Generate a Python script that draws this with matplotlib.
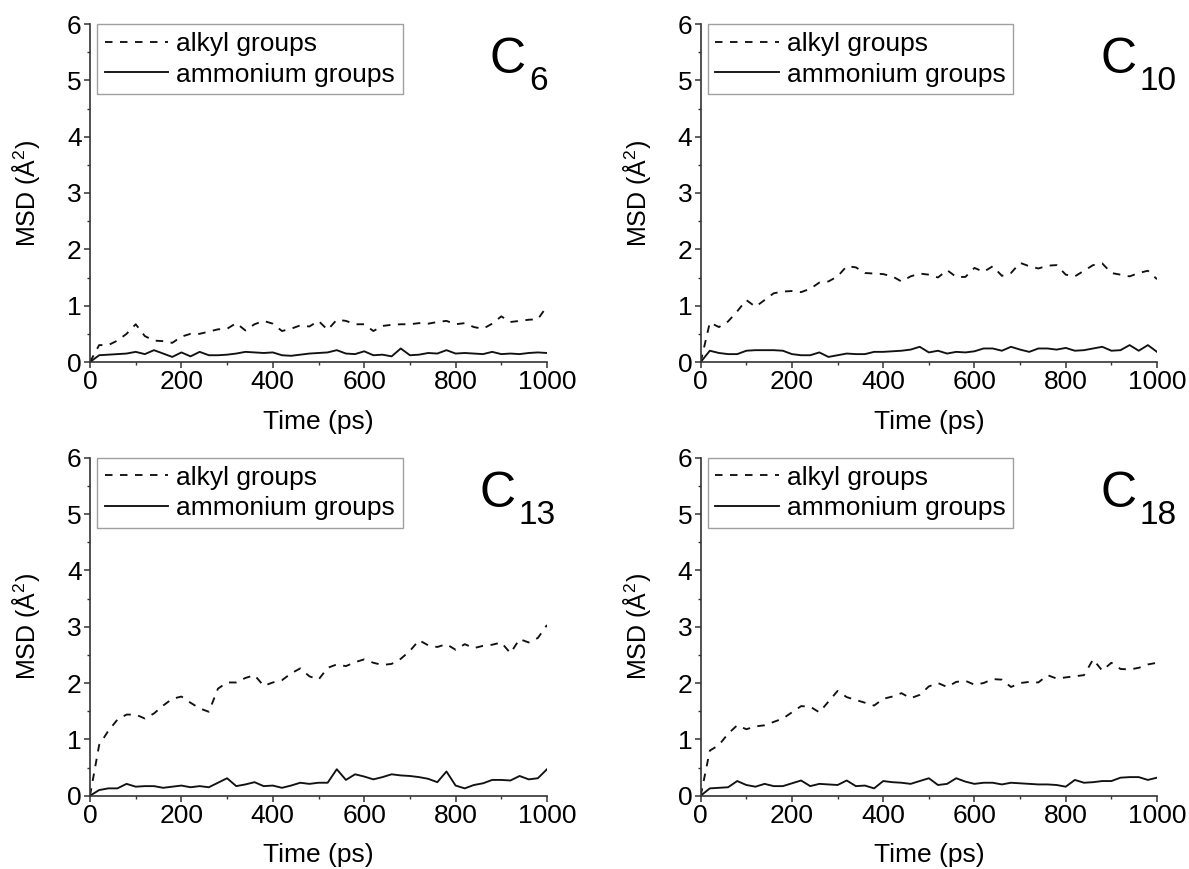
import matplotlib
matplotlib.use("Agg")
import matplotlib.pyplot as plt
from matplotlib.ticker import MultipleLocator

plt.rcParams["font.family"] = ["Liberation Sans", "DejaVu Sans"]
plt.rcParams["mathtext.default"] = "regular"

# MSD traces, sampled every 20 ps from 0 to 1000 ps
time_ps = list(range(0, 1001, 20))

alkyl_c6 = [0, 0.30, 0.30, 0.38, 0.50, 0.67, 0.46, 0.38, 0.37, 0.34, 0.45, 0.50, 0.50,
            0.54, 0.58, 0.59, 0.69, 0.56, 0.67, 0.73, 0.68, 0.55, 0.59, 0.65, 0.63, 0.73,
            0.57, 0.75, 0.73, 0.67, 0.67, 0.55, 0.64, 0.66, 0.67, 0.67, 0.69, 0.68, 0.71,
            0.73, 0.67, 0.69, 0.62, 0.59, 0.68, 0.81, 0.71, 0.73, 0.75, 0.76, 0.99]
ammonium_c6 = [0, 0.12, 0.13, 0.14, 0.15, 0.18, 0.14, 0.21, 0.15, 0.09, 0.17, 0.10, 0.18,
               0.12, 0.12, 0.13, 0.15, 0.18, 0.17, 0.16, 0.17, 0.12, 0.11, 0.13, 0.15, 0.16,
               0.17, 0.21, 0.15, 0.14, 0.19, 0.12, 0.13, 0.10, 0.24, 0.12, 0.13, 0.16, 0.15,
               0.21, 0.15, 0.16, 0.15, 0.14, 0.18, 0.14, 0.15, 0.14, 0.16, 0.17, 0.16]

alkyl_c10 = [0, 0.70, 0.62, 0.72, 0.90, 1.10, 0.98, 1.10, 1.22, 1.25, 1.26, 1.24, 1.30,
             1.41, 1.43, 1.52, 1.70, 1.68, 1.58, 1.57, 1.56, 1.52, 1.43, 1.52, 1.57, 1.55,
             1.50, 1.63, 1.51, 1.51, 1.67, 1.60, 1.70, 1.53, 1.58, 1.76, 1.70, 1.66, 1.71,
             1.72, 1.55, 1.52, 1.62, 1.72, 1.75, 1.58, 1.55, 1.52, 1.58, 1.62, 1.47]
ammonium_c10 = [0, 0.20, 0.16, 0.14, 0.14, 0.20, 0.21, 0.21, 0.21, 0.20, 0.14, 0.12, 0.12,
                0.17, 0.09, 0.12, 0.15, 0.14, 0.14, 0.18, 0.18, 0.19, 0.20, 0.22, 0.27, 0.17,
                0.20, 0.15, 0.18, 0.17, 0.19, 0.24, 0.24, 0.20, 0.27, 0.22, 0.18, 0.24, 0.24,
                0.22, 0.25, 0.20, 0.21, 0.24, 0.27, 0.20, 0.21, 0.30, 0.20, 0.30, 0.18]

alkyl_c13 = [0, 0.90, 1.15, 1.35, 1.44, 1.44, 1.37, 1.46, 1.60, 1.72, 1.76, 1.65, 1.55,
             1.49, 1.90, 2.01, 2.01, 2.09, 2.14, 1.95, 2.01, 2.05, 2.17, 2.26, 2.12, 2.06,
             2.27, 2.33, 2.30, 2.37, 2.42, 2.36, 2.32, 2.34, 2.43, 2.57, 2.76, 2.67, 2.64,
             2.69, 2.59, 2.69, 2.62, 2.66, 2.68, 2.72, 2.53, 2.78, 2.72, 2.80, 3.03]
ammonium_c13 = [0, 0.10, 0.13, 0.13, 0.21, 0.16, 0.17, 0.17, 0.14, 0.16, 0.18, 0.15, 0.17,
                0.15, 0.23, 0.31, 0.17, 0.20, 0.24, 0.17, 0.18, 0.14, 0.18, 0.23, 0.21, 0.23,
                0.23, 0.47, 0.28, 0.38, 0.34, 0.29, 0.33, 0.38, 0.36, 0.35, 0.33, 0.30, 0.24,
                0.43, 0.18, 0.13, 0.19, 0.22, 0.28, 0.28, 0.27, 0.35, 0.29, 0.31, 0.47]

alkyl_c18 = [0, 0.80, 0.90, 1.10, 1.25, 1.18, 1.23, 1.25, 1.31, 1.37, 1.48, 1.59, 1.58,
             1.48, 1.67, 1.86, 1.75, 1.70, 1.65, 1.60, 1.72, 1.76, 1.82, 1.73, 1.79, 1.94,
             2.00, 1.93, 2.02, 2.04, 1.97, 2.00, 2.07, 2.06, 1.93, 2.00, 2.02, 2.01, 2.14,
             2.08, 2.10, 2.12, 2.14, 2.42, 2.22, 2.36, 2.25, 2.24, 2.27, 2.33, 2.36]
ammonium_c18 = [0, 0.13, 0.14, 0.15, 0.26, 0.19, 0.16, 0.21, 0.17, 0.17, 0.22, 0.27, 0.17,
                0.21, 0.20, 0.19, 0.27, 0.17, 0.18, 0.13, 0.26, 0.24, 0.23, 0.21, 0.26, 0.31,
                0.19, 0.21, 0.31, 0.25, 0.21, 0.23, 0.23, 0.20, 0.23, 0.22, 0.21, 0.20, 0.20,
                0.19, 0.16, 0.28, 0.23, 0.24, 0.26, 0.26, 0.32, 0.33, 0.33, 0.28, 0.32]

chain_labels = ["6", "10", "13", "18"]
alkyl_series = [alkyl_c6, alkyl_c10, alkyl_c13, alkyl_c18]
ammonium_series = [ammonium_c6, ammonium_c10, ammonium_c13, ammonium_c18]

W, H = 1189, 869
# axes boxes in pixels: (left, top, right, bottom)
boxes = [(90, 24, 547, 362), (700.7, 24, 1157, 362),
         (90, 457.7, 547, 795.7), (700.7, 457.7, 1157, 795.7)]
c_x = [0.875, 0.876, 0.853, 0.876]

fig = plt.figure(figsize=(W / 100, H / 100), dpi=100)
ink = "#111111"

for i, (l, t, r, b) in enumerate(boxes):
    ax = fig.add_axes([l / W, 1 - b / H, (r - l) / W, (b - t) / H])
    ax.plot(time_ps, alkyl_series[i], color=ink, lw=1.35, dashes=(4, 4),
            label="alkyl groups")
    ax.plot(time_ps, ammonium_series[i], color=ink, lw=1.35, label="ammonium groups")

    ax.set_xlim(0, 1000)
    ax.set_ylim(0, 6)
    ax.xaxis.set_major_locator(MultipleLocator(200))
    ax.xaxis.set_minor_locator(MultipleLocator(100))
    ax.yaxis.set_major_locator(MultipleLocator(1))
    ax.yaxis.set_minor_locator(MultipleLocator(0.5))
    for s in ("top", "right"):
        ax.spines[s].set_visible(False)
    for s in ("left", "bottom"):
        ax.spines[s].set_linewidth(1.2)
        ax.spines[s].set_color("#333333")
    ax.tick_params(which="major", direction="out", length=4, width=1.1,
                   labelsize=19, pad=2, colors="#333333", labelcolor="black")
    ax.tick_params(which="minor", direction="out", length=2.5, width=1.0,
                   colors="#333333")

    ax.set_xlabel("Time (ps)", fontsize=19, labelpad=11)
    ax.set_ylabel("MSD (Å$^{2}$)", fontsize=18, labelpad=18)

    leg = ax.legend(loc="upper left", bbox_to_anchor=(0.015, 1.0), borderaxespad=0,
                    fontsize=19, frameon=True, fancybox=False, handlelength=2.4,
                    handletextpad=0.3, borderpad=0.3, labelspacing=0.25)
    leg.get_frame().set_edgecolor("#888888")
    leg.get_frame().set_linewidth(1.0)

    ctext = ax.text(c_x[i], 0.855, "C", transform=ax.transAxes, fontsize=36,
                    ha="left", va="baseline")
    ax.annotate(chain_labels[i], xy=(1, 0), xycoords=ctext, xytext=(2, -5),
                textcoords="offset points", fontsize=24, ha="left", va="baseline")

fig.savefig("out.png", dpi=100)
